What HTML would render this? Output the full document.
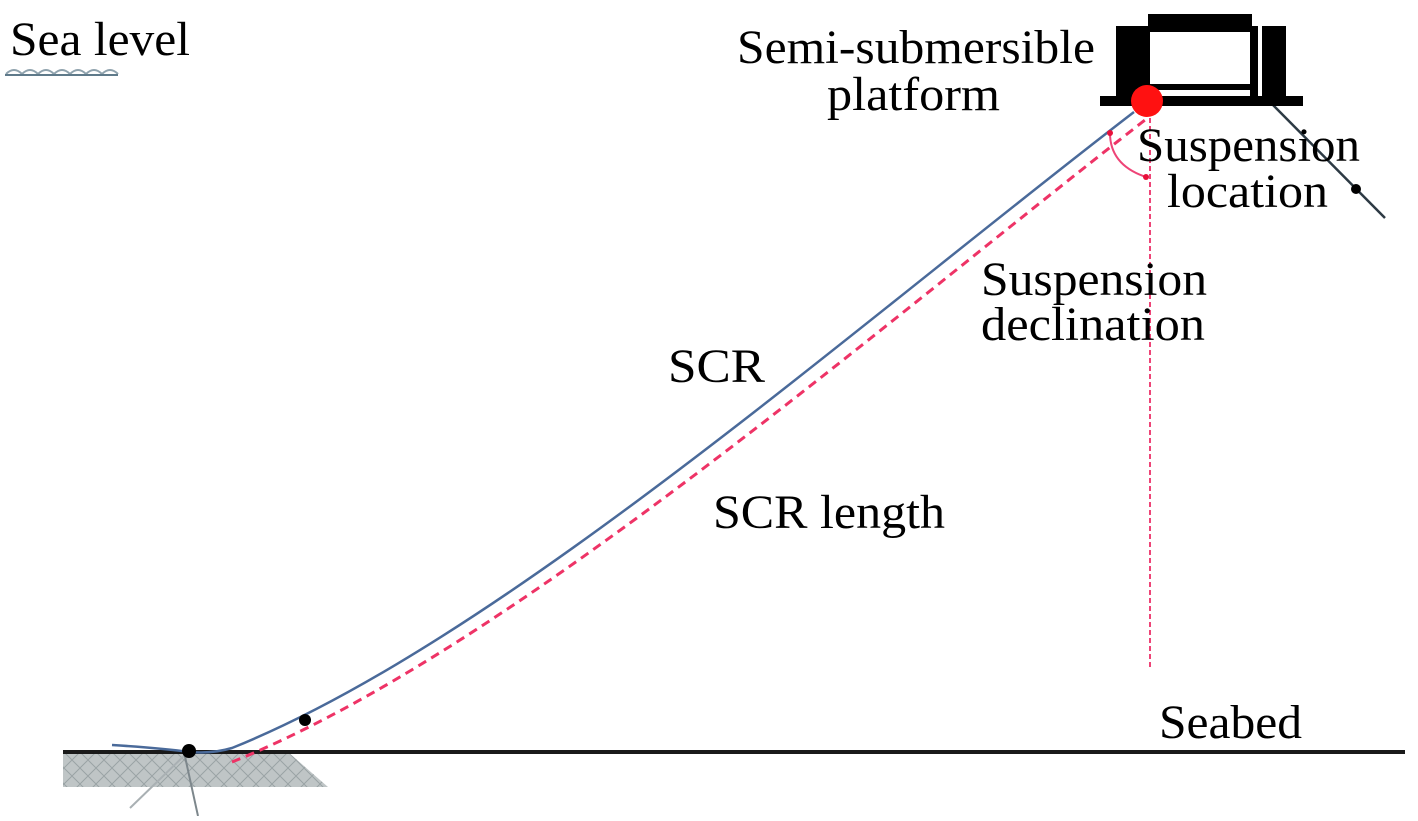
<!DOCTYPE html>
<html><head><meta charset="utf-8"><style>
body{margin:0;background:#fff;}
svg text{font-family:"Liberation Serif",serif;font-size:48px;fill:#000;}
</style></head><body>
<svg width="1418" height="816" viewBox="0 0 1418 816" xmlns="http://www.w3.org/2000/svg">
<defs><pattern id="h" width="16" height="16" patternUnits="userSpaceOnUse"><path d="M0 0L16 16M16 0L0 16" stroke="#9aa3a5" stroke-width="1"/></pattern></defs>
<polygon points="63,752 288,752 328,787 63,787" fill="#bfc5c6"/>
<polygon points="63,752 288,752 328,787 63,787" fill="url(#h)"/>
<line x1="63" y1="752" x2="1405" y2="752" stroke="#1a1a1a" stroke-width="4"/>
<line x1="188" y1="752" x2="130" y2="808" stroke="#a9b0b3" stroke-width="2"/>
<line x1="184" y1="752" x2="198" y2="816" stroke="#7d878c" stroke-width="2"/>
<path d="M6 74 q8-8 16 0 q8-8 16 0 q8-8 16 0 q8-8 16 0 q8-8 16 0 q8-8 16 0 q8-8 16 0" fill="none" stroke="#8fa2ad" stroke-width="2"/>
<line x1="5" y1="75" x2="118" y2="75" stroke="#5f7a8a" stroke-width="2"/>
<path d="M112 745 Q160 748 190 752 Q212 754 232 748 C500 640 850 330 1134 112" fill="none" stroke="#4a6a9a" stroke-width="2.5"/>
<path d="M232 762 C505 652 860 342 1145 120" fill="none" stroke="#ee3366" stroke-width="3" stroke-dasharray="9 6"/>
<line x1="1150" y1="118" x2="1150" y2="670" stroke="#ee4477" stroke-width="2" stroke-dasharray="5 3"/>
<path d="M1110 133 Q1110 165 1146 177" fill="none" stroke="#ee4477" stroke-width="2"/>
<circle cx="1110" cy="133" r="3" fill="#e8103a"/>
<circle cx="1146" cy="177" r="3" fill="#e8103a"/>
<line x1="1272" y1="104" x2="1385" y2="218" stroke="#2d3a44" stroke-width="2.5"/>
<circle cx="1356" cy="189" r="5" fill="#000"/>
<circle cx="305" cy="720" r="6" fill="#000"/>
<circle cx="189" cy="751" r="7" fill="#000"/>
<rect x="1148" y="14" width="104" height="18" fill="#000"/>
<rect x="1116" y="26" width="26" height="74" fill="#000"/>
<rect x="1142" y="26" width="8" height="74" fill="#000"/>
<rect x="1250" y="26" width="8" height="74" fill="#000"/>
<rect x="1262" y="26" width="24" height="74" fill="#000"/>
<rect x="1148" y="84" width="104" height="6" fill="#000"/>
<rect x="1100" y="96" width="203" height="10" fill="#000"/>
<circle cx="1147" cy="101" r="16" fill="#ff1111"/>
<text x="10" y="55" textLength="180" lengthAdjust="spacingAndGlyphs">Sea level</text>
<text x="737" y="63" textLength="358" lengthAdjust="spacingAndGlyphs">Semi-submersible</text>
<text x="827" y="110" textLength="173" lengthAdjust="spacingAndGlyphs">platform</text>
<text x="1137" y="161" textLength="223" lengthAdjust="spacingAndGlyphs">Suspension</text>
<text x="1167" y="207" textLength="161" lengthAdjust="spacingAndGlyphs">location</text>
<text x="981" y="295" textLength="226" lengthAdjust="spacingAndGlyphs">Suspension</text>
<text x="981" y="340" textLength="224" lengthAdjust="spacingAndGlyphs">declination</text>
<text x="668" y="382" textLength="97" lengthAdjust="spacingAndGlyphs">SCR</text>
<text x="713" y="528" textLength="232" lengthAdjust="spacingAndGlyphs">SCR length</text>
<text x="1159" y="738" textLength="143" lengthAdjust="spacingAndGlyphs">Seabed</text>
</svg>
</body></html>
